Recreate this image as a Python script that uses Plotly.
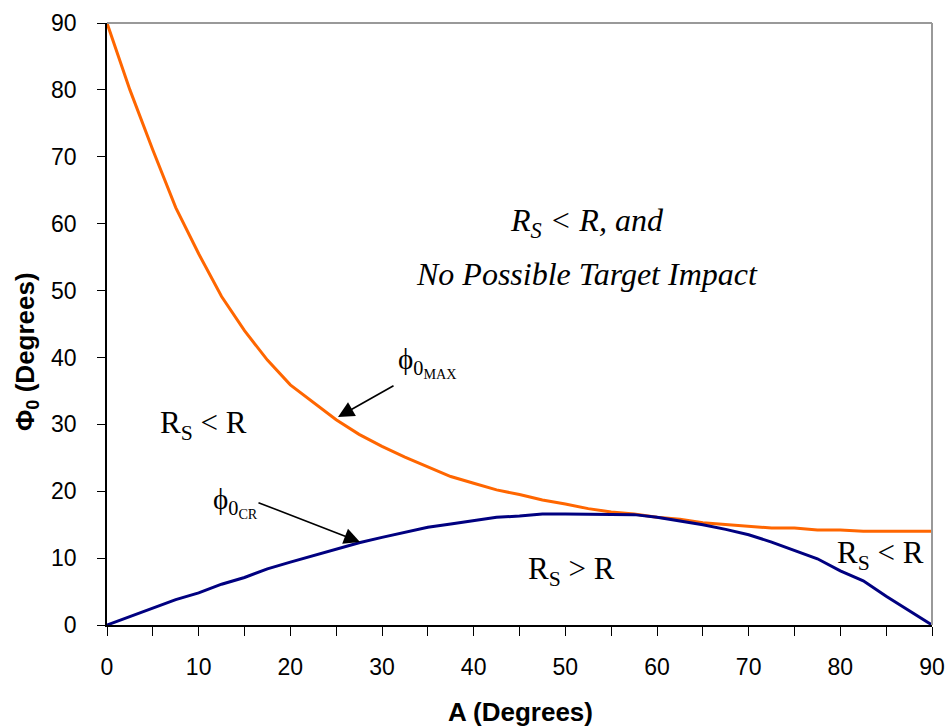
import plotly.graph_objects as go

A_deg = [0, 2.5, 5, 7.5, 10, 12.5, 15, 17.5, 20, 22.5, 25, 27.5, 30, 32.5, 35, 37.5,
         40, 42.5, 45, 47.5, 50, 52.5, 55, 57.5, 60, 62.5, 65, 67.5, 70, 72.5, 75,
         77.5, 80, 82.5, 85, 87.5, 90]
phi0_max = [90, 80, 71, 62.4, 55.5, 49.1, 44.0, 39.6, 35.9, 33.3, 30.7, 28.5, 26.7,
            25.1, 23.6, 22.2, 21.2, 20.2, 19.5, 18.7, 18.1, 17.4, 16.9, 16.6, 16.1,
            15.8, 15.3, 15.0, 14.8, 14.5, 14.5, 14.2, 14.2, 14.0, 14.0, 14.0, 14.0]
phi0_cr = [0, 1.3, 2.5, 3.8, 4.8, 6.1, 7.1, 8.4, 9.4, 10.4, 11.3, 12.3, 13.1, 13.9,
           14.6, 15.1, 15.6, 16.1, 16.3, 16.6, 16.6, 16.6, 16.6, 16.5, 16.1, 15.6,
           15.0, 14.3, 13.5, 12.4, 11.2, 9.9, 8.1, 6.6, 4.3, 2.2, 0]

x_ticks = list(range(0, 91, 10))
y_ticks = list(range(0, 91, 10))

fig = go.Figure()
fig.add_trace(go.Scatter(x=A_deg, y=phi0_max, mode="lines",
                         line=dict(color="#FF6600", width=3), name="phi0_max"))
fig.add_trace(go.Scatter(x=A_deg, y=phi0_cr, mode="lines",
                         line=dict(color="#000080", width=3), name="phi0_cr"))

serif = "Liberation Serif, Times New Roman, serif"
sans = "Liberation Sans, Arial, sans-serif"

annotations = [
    dict(x=52.4, y=60.2, text="<i>R<sub>S</sub> &lt; R, and</i>", showarrow=False,
         font=dict(family=serif, size=32, color="black")),
    dict(x=52.4, y=52.5, text="<i>No Possible Target Impact</i>", showarrow=False,
         font=dict(family=serif, size=32, color="black")),
    dict(x=10.5, y=29.9, text="R<sub>S</sub> &lt; R", showarrow=False,
         font=dict(family=serif, size=31, color="black")),
    dict(x=50.7, y=8.1, text="R<sub>S</sub> &gt; R", showarrow=False,
         font=dict(family=serif, size=31, color="black")),
    dict(x=84.4, y=10.5, text="R<sub>S</sub> &lt; R", showarrow=False,
         font=dict(family=serif, size=31, color="black")),
    # phi0_max arrow
    dict(x=25.2, y=31.1, ax=395 - 338, ay=385 - 417, text="", showarrow=True,
         arrowhead=2, arrowsize=2, arrowwidth=1.6, arrowcolor="black"),
    dict(x=35.0, y=39.3, text="ϕ<sub>0<sub>MAX</sub></sub>", showarrow=False,
         font=dict(family=serif, size=29, color="black")),
    # phi0_cr arrow
    dict(x=27.6, y=12.4, ax=257 - 360, ay=502 - 542, text="", showarrow=True,
         arrowhead=2, arrowsize=2, arrowwidth=1.6, arrowcolor="black"),
    dict(x=14.0, y=18.3, text="ϕ<sub>0<sub>CR</sub></sub>", showarrow=False,
         font=dict(family=serif, size=29, color="black")),
    # axis titles
    dict(xref="paper", yref="paper", x=(520 - 107) / 825, y=-(712 - 625) / 602,
         text="<b>A (Degrees)</b>", showarrow=False, yanchor="middle",
         font=dict(family=sans, size=26, color="black")),
    dict(xref="paper", yref="paper", x=(26 - 107) / 825, y=1 - (352 - 23) / 602,
         text="<b>Φ<sub>0</sub> (Degrees)</b>", showarrow=False, textangle=-90,
         xanchor="center", yanchor="middle",
         font=dict(family=sans, size=26, color="black")),
]

fig.update_layout(
    width=950, height=727,
    margin=dict(l=107, r=18, t=23, b=102),
    paper_bgcolor="white", plot_bgcolor="white",
    showlegend=False,
    annotations=annotations,
    xaxis=dict(range=[0, 90], tickvals=x_ticks, ticks="outside", ticklen=9,
               tickcolor="black", tickwidth=1, automargin=False,
               minor=dict(dtick=5, tick0=0, ticks="outside", ticklen=9,
                          tickcolor="black", tickwidth=1),
               showgrid=False, zeroline=False, showline=True, linecolor="black",
               linewidth=1.5,
               tickfont=dict(family=sans, size=23, color="black"),
               ticklabelstandoff=12),
    yaxis=dict(range=[0, 90], tickvals=y_ticks, ticks="outside", ticklen=8,
               tickcolor="black", tickwidth=1, automargin=False,
               showgrid=False, zeroline=False, showline=True, linecolor="black",
               linewidth=1.5,
               tickfont=dict(family=sans, size=23, color="black"),
               ticklabelstandoff=16),
    shapes=[
        dict(type="line", xref="paper", yref="paper", x0=0, x1=1, y0=1, y1=1,
             line=dict(color="#999999", width=2)),
        dict(type="line", xref="paper", yref="paper", x0=1, x1=1, y0=0, y1=1,
             line=dict(color="#999999", width=2)),
    ],
)

fig.write_html("out.html")
